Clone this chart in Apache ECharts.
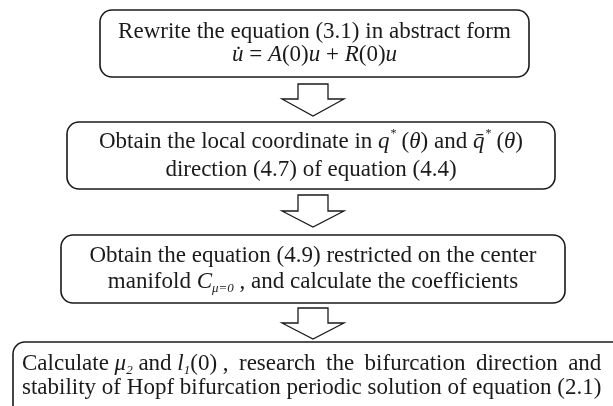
<!DOCTYPE html>
<html>
<head>
<meta charset="utf-8">
<script src="https://cdn.jsdelivr.net/npm/echarts@6/dist/echarts.min.js"></script>
<style>
html,body{margin:0;padding:0;background:#fff;}
#main{width:613px;height:406px;}
</style>
</head>
<body>
<div id="main"></div>
<script>
// 流程步骤文字，每个框两行；最后一框第一行是两端对齐的，按词给出
var step1 = ['Rewrite the equation (3.1) in abstract form', '{i|u\u0307} = {i|A}(0){i|u} + {i|R}(0){i|u}'];
var step2 = ['Obtain the local coordinate in {i|q}{sup|*}({i|\u03b8}) and {i|q\u0304}{sup|*}({i|\u03b8})', 'direction (4.7) of equation (4.4)'];
var step3 = ['Obtain the equation (4.9) restricted on the center', 'manifold {i|C}{sub|\u03bc=0} , and calculate the coefficients'];
var step4 = [
    ['Calculate {i|\u03bc}{sub|2} and {i|l}{sub|1}(0) ,', 'research', 'the', 'bifurcation', 'direction', 'and'],
    'stability of Hopf bifurcation periodic solution of equation (2.1)'
];

// 框和箭头的位置（版面）
var boxRects = [[100, 10, 429, 67], [67, 122, 488, 67], [61, 235, 504, 68], [13, 342, 660, 120]];
var lineGap = [23, 28, 26, 24];
var arrowY = [[84, 99, 116], [195, 211, 227], [308, 323, 339]];
var arrowX = 313;

var font = 'Liberation Serif';
var fs = 23;
var ink = '#1a1a1a';
var rich = {
    i: {fontFamily: font, fontSize: fs, fontStyle: 'italic', fill: ink},
    sup: {fontFamily: font, fontSize: 12, verticalAlign: 'top', lineHeight: 15, padding: [0, 5, 0, 1], fill: ink},
    sub: {fontFamily: font, fontSize: 13, fontStyle: 'italic', verticalAlign: 'bottom', lineHeight: 14, fill: ink}
};

function textWidth(s) {
    var t = new echarts.graphic.Text({style: {text: s, rich: rich, fontSize: fs, fontFamily: font}});
    return t.getBoundingRect().width;
}

function makeText(x, y, s, align, lh) {
    return {
        type: 'text', x: x, y: y, z: 10,
        style: {
            text: s, rich: rich, fontSize: fs, fontFamily: font, fill: ink,
            textAlign: align, textVerticalAlign: 'middle', lineHeight: lh
        }
    };
}

var elements = [];

// 圆角框
for (var i = 0; i < boxRects.length; i++) {
    var b = boxRects[i];
    elements.push({
        type: 'rect',
        shape: {x: b[0], y: b[1], width: b[2], height: b[3], r: 12},
        style: {fill: '#fff', stroke: ink, lineWidth: 1.6}
    });
}

// 空心箭头
for (var j = 0; j < arrowY.length; j++) {
    var a = arrowY[j];
    elements.push({
        type: 'polygon',
        shape: {points: [
            [arrowX - 15, a[0]], [arrowX + 15, a[0]], [arrowX + 15, a[1]], [arrowX + 31, a[1]],
            [arrowX, a[2]], [arrowX - 31, a[1]], [arrowX - 15, a[1]]
        ]},
        style: {fill: '#fff', stroke: ink, lineWidth: 1.3}
    });
}

// 前三个框：居中文字
var centered = [step1, step2, step3];
for (var k = 0; k < centered.length; k++) {
    var r = boxRects[k];
    elements.push(makeText(r[0] + r[2] / 2, r[1] + r[3] / 2, centered[k].join('\n'), 'center', lineGap[k]));
}

// 最后一框：第二行左对齐，第一行两端对齐到第二行的宽度
var left4 = 22;
var y4 = 364;
var fullW = textWidth(step4[1]);
elements.push(makeText(left4, y4 + lineGap[3], step4[1], 'left', 26));

var words = step4[0];
var widths = [];
var sum = 0;
for (var w = 0; w < words.length; w++) {
    widths.push(textWidth(words[w]));
    sum += widths[w];
}
var gap = (fullW - sum) / (words.length - 1);
var cx = left4;
for (var w2 = 0; w2 < words.length; w2++) {
    elements.push(makeText(cx, y4, words[w2], 'left', 26));
    cx += widths[w2] + gap;
}

var chart = echarts.init(document.getElementById('main'));
chart.setOption({
    backgroundColor: '#fff',
    graphic: {elements: elements}
});
</script>
</body>
</html>
